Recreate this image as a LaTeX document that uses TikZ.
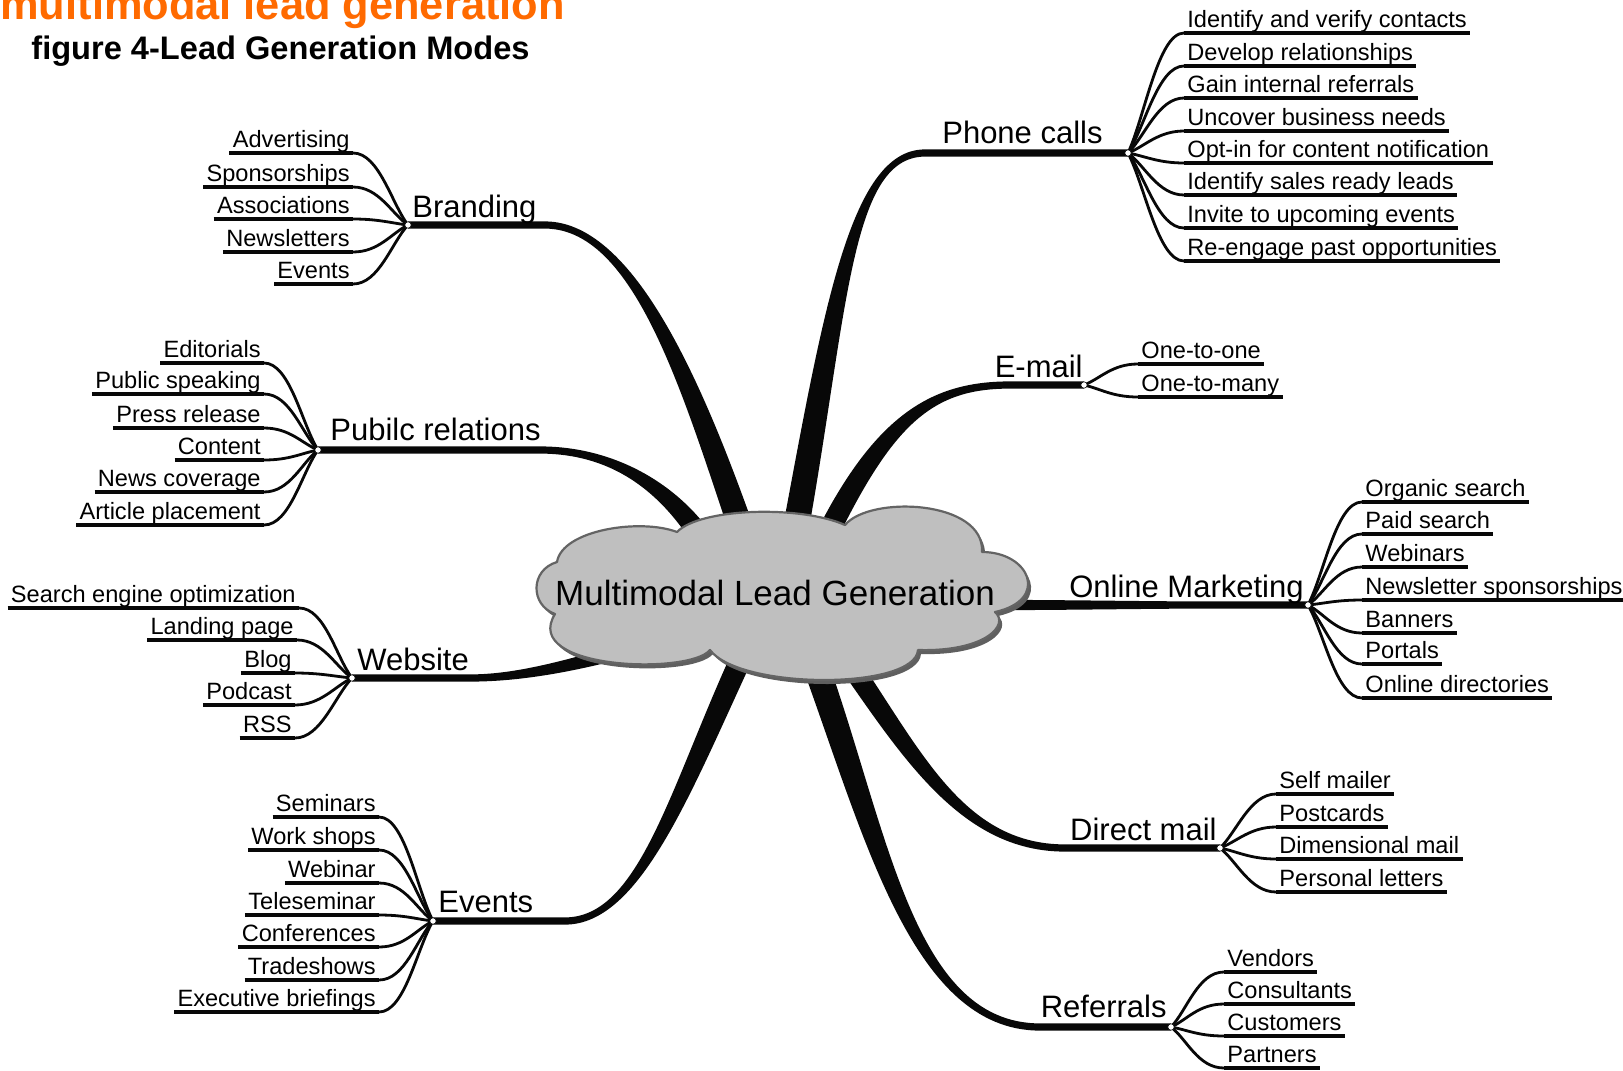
\documentclass[tikz,border=0pt]{standalone}
\usepackage{fontspec}
\setmainfont{Liberation Sans}
\usetikzlibrary{calc}
\definecolor{orangeT}{RGB}{255,106,0}
\definecolor{cloudfill}{RGB}{191,191,191}
\definecolor{cloudline}{RGB}{100,100,100}
\definecolor{cloudshadow}{RGB}{95,95,95}
\definecolor{ink}{RGB}{8,8,8}
\tikzset{
  item/.style={font=\fontsize{11.8}{14}\selectfont, inner xsep=1.5pt, inner ysep=2.4pt, text height=8.4pt, text depth=0pt},
  subc/.style={draw=ink, line width=1.4pt, line cap=round},
  uline/.style={draw=ink, line width=1.7pt, line cap=butt},
  blabel/.style={font=\fontsize{15.5}{18}\selectfont, inner sep=0pt},
  jdot/.style={circle, fill=white, draw=ink, line width=0.3pt, inner sep=0pt, minimum size=3.2pt},
}
% tapered main branch: P0 P1 P2 P3 junction halfwidth0 halfwidth3
\newcommand\mmbranch[7]{%
  \coordinate (a0) at ($(#1)!#6!90:(#2)$);
  \coordinate (b0) at ($(#1)!#6!-90:(#2)$);
  \coordinate (a3) at ($(#4)!#7!-90:(#3)$);
  \coordinate (b3) at ($(#4)!#7!90:(#3)$);
  \coordinate (a1) at ($(#2)+(a0)-(#1)$);
  \coordinate (b1) at ($(#2)+(b0)-(#1)$);
  \coordinate (a2) at ($(#3)+(a3)-(#4)$);
  \coordinate (b2) at ($(#3)+(b3)-(#4)$);
  \coordinate (aJ) at ($(#5)+(a3)-(#4)$);
  \coordinate (bJ) at ($(#5)+(b3)-(#4)$);
  \fill[ink] (a0) .. controls (a1) and (a2) .. (a3) -- (aJ) -- (bJ) -- (b3) .. controls (b2) and (b1) .. (b0) -- cycle;
}
% right sub item: name, junction, position, text
\newcommand\rsub[4]{%
  \node[item, anchor=south west] (#1) at (#3) {#4};
  \draw[subc] (#2) .. controls ($(#2)!0.3!(#1.south west)$) and +(-26,0) .. (#1.south west);
  \draw[uline] (#1.south west) -- (#1.south east);
}
% left sub item
\newcommand\lsub[4]{%
  \node[item, anchor=south east] (#1) at (#3) {#4};
  \draw[subc] (#2) .. controls ($(#2)!0.3!(#1.south east)$) and +(26,0) .. (#1.south east);
  \draw[uline] (#1.south west) -- (#1.south east);
}
\def\cloudpath{(557,562) .. controls (562,530) and (640,518) .. (677,532) .. controls (700,508) and (800,505) .. (845,525) .. controls (870,495) and (985,500) .. (982,552) .. controls (1030,552) and (1050,600) .. (995,612) .. controls (1010,625) and (985,652) .. (918,650) .. controls (915,690) and (740,690) .. (710,650) .. controls (690,675) and (520,670) .. (555,614) .. controls (530,605) and (530,570) .. (557,562) -- cycle}
\begin{document}
\begin{tikzpicture}[x=0.5pt, y=-0.5pt, line join=round]
\useasboundingbox (0,0) rectangle (1623,1071);
\fill[white] (0,0) rectangle (1623,1071);

% junctions
\coordinate (jP) at (1128,153);
\coordinate (jE) at (1084,385);
\coordinate (jO) at (1308,605);
\coordinate (jD) at (1220,848);
\coordinate (jR) at (1171,1027);
\coordinate (jB) at (408,225);
\coordinate (jQ) at (318,450);
\coordinate (jW) at (352,678);
\coordinate (jV) at (433,921);

% main branches
\mmbranch{790,560}{835,320}{848,153}{925,153}{jP}{6.5pt}{1.8pt}
\mmbranch{815,560}{880,420}{930,385}{1010,385}{jE}{5.5pt}{1.8pt}
\mmbranch{980,605}{1060,605}{1150,605}{1200,605}{jO}{2.6pt}{1.8pt}
\mmbranch{840,650}{910,750}{960,848}{1065,848}{jD}{5.2pt}{1.8pt}
\mmbranch{810,650}{875,825}{910,1027}{1040,1027}{jR}{6.5pt}{1.8pt}
\mmbranch{752,560}{700,410}{640,225}{545,225}{jB}{6.3pt}{1.8pt}
\mmbranch{715,560}{680,495}{620,450}{540,450}{jQ}{5.5pt}{1.8pt}
\mmbranch{645,645}{575,665}{520,678}{470,678}{jW}{3.6pt}{1.8pt}
\mmbranch{745,650}{680,790}{640,921}{565,921}{jV}{5.4pt}{1.8pt}

% cloud
\fill[cloudshadow, shift={(3,4)}] \cloudpath;
\filldraw[fill=cloudfill, draw=cloudline, line width=1.1pt] \cloudpath;
\node[font=\fontsize{17.5}{20}\selectfont, inner sep=0pt, anchor=base] (center) at (775,605) {Multimodal Lead Generation};

% titles
\node[font=\bfseries\fontsize{21.7}{25}\selectfont, text=orangeT, anchor=base west, inner sep=0pt] (title) at (0,19) {multimodal lead generation};
\node[font=\bfseries\fontsize{16.3}{19}\selectfont, anchor=base west, inner sep=0pt] (subtitle) at (31,59) {figure 4-Lead Generation Modes};

% branch labels
\node[blabel, anchor=base east] (lP) at (1103,143) {Phone calls};
\node[blabel, anchor=base east] (lE) at (1083,377) {E-mail};
\node[blabel, anchor=base east] (lO) at (1304,597) {Online Marketing};
\node[blabel, anchor=base east] (lD) at (1217,840) {Direct mail};
\node[blabel, anchor=base east] (lR) at (1167,1017) {Referrals};
\node[blabel, anchor=base west] (lB) at (412,217) {Branding};
\node[blabel, anchor=base west] (lQ) at (330,440) {Pubilc relations};
\node[blabel, anchor=base west] (lW) at (357,670) {Website};
\node[blabel, anchor=base west] (lV) at (438,912) {Events};

% phone calls
\rsub{p1}{jP}{1184,33}{Identify and verify contacts}
\rsub{p2}{jP}{1184,66}{Develop relationships}
\rsub{p3}{jP}{1184,98}{Gain internal referrals}
\rsub{p4}{jP}{1184,131}{Uncover business needs}
\rsub{p5}{jP}{1184,163}{Opt-in for content notification}
\rsub{p6}{jP}{1184,195}{Identify sales ready leads}
\rsub{p7}{jP}{1184,228}{Invite to upcoming events}
\rsub{p8}{jP}{1184,261}{Re-engage past opportunities}
% e-mail
\rsub{e1}{jE}{1138,364}{One-to-one}
\rsub{e2}{jE}{1138,397}{One-to-many}
% online marketing
\rsub{o1}{jO}{1362,502}{Organic search}
\rsub{o2}{jO}{1362,534}{Paid search}
\rsub{o3}{jO}{1362,567}{Webinars}
\rsub{o4}{jO}{1362,600}{Newsletter sponsorships}
\rsub{o5}{jO}{1362,633}{Banners}
\rsub{o6}{jO}{1362,664}{Portals}
\rsub{o7}{jO}{1362,698}{Online directories}
% direct mail
\rsub{d1}{jD}{1276,794}{Self mailer}
\rsub{d2}{jD}{1276,827}{Postcards}
\rsub{d3}{jD}{1276,859}{Dimensional mail}
\rsub{d4}{jD}{1276,892}{Personal letters}
% referrals
\rsub{r1}{jR}{1224,972}{Vendors}
\rsub{r2}{jR}{1224,1004}{Consultants}
\rsub{r3}{jR}{1224,1036}{Customers}
\rsub{r4}{jR}{1224,1068}{Partners}
% branding
\lsub{b1}{jB}{353,153}{Advertising}
\lsub{b2}{jB}{353,187}{Sponsorships}
\lsub{b3}{jB}{353,219}{Associations}
\lsub{b4}{jB}{353,252}{Newsletters}
\lsub{b5}{jB}{353,284}{Events}
% public relations
\lsub{q1}{jQ}{264,363}{Editorials}
\lsub{q2}{jQ}{264,394}{Public speaking}
\lsub{q3}{jQ}{264,428}{Press release}
\lsub{q4}{jQ}{264,460}{Content}
\lsub{q5}{jQ}{264,492}{News coverage}
\lsub{q6}{jQ}{264,525}{Article placement}
% website
\lsub{w1}{jW}{299,608}{Search engine optimization}
\lsub{w2}{jW}{297,640}{Landing page}
\lsub{w3}{jW}{295,673}{Blog}
\lsub{w4}{jW}{295,705}{Podcast}
\lsub{w5}{jW}{295,738}{RSS}
% events
\lsub{v1}{jV}{379,817}{Seminars}
\lsub{v2}{jV}{379,850}{Work shops}
\lsub{v3}{jV}{379,883}{Webinar}
\lsub{v4}{jV}{379,915}{Teleseminar}
\lsub{v5}{jV}{379,947}{Conferences}
\lsub{v6}{jV}{379,980}{Tradeshows}
\lsub{v7}{jV}{379,1012}{Executive briefings}

% junction dots
\node[jdot] (dP) at (jP) {};
\node[jdot] (dE) at (jE) {};
\node[jdot] (dO) at (jO) {};
\node[jdot] (dD) at (jD) {};
\node[jdot] (dR) at (jR) {};
\node[jdot] (dB) at (jB) {};
\node[jdot] (dQ) at (jQ) {};
\node[jdot] (dW) at (jW) {};
\node[jdot] (dV) at (jV) {};
\end{tikzpicture}
\end{document}
